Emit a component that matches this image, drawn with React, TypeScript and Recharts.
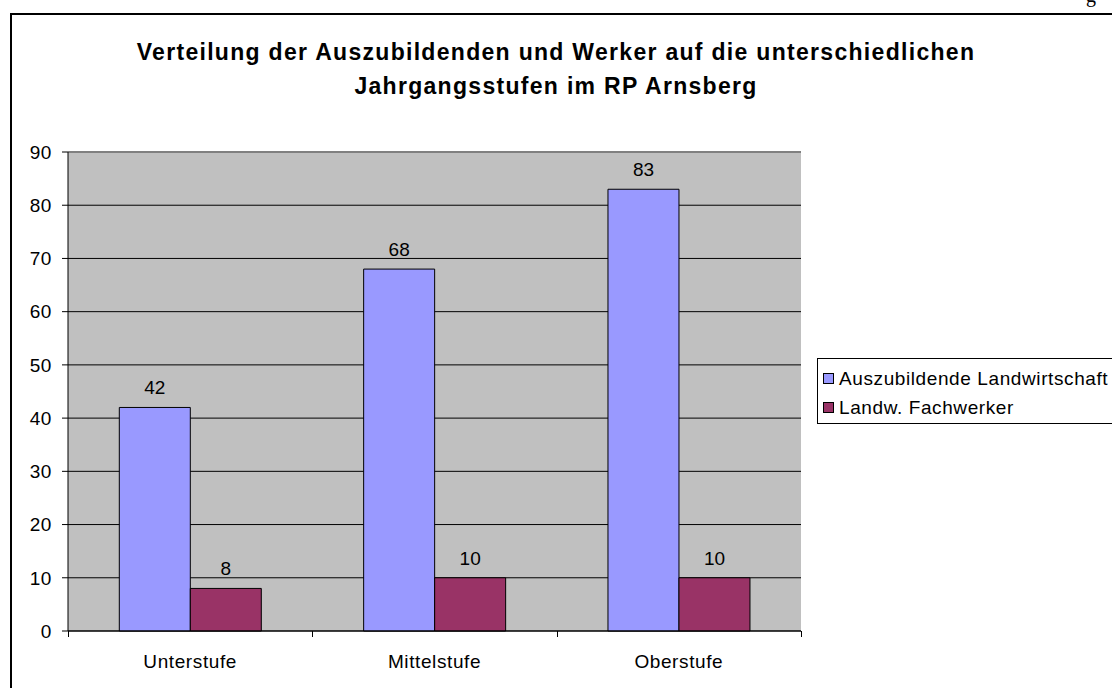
import React from "react";
import {
  BarChart,
  Bar,
  XAxis,
  YAxis,
  CartesianGrid,
  Legend,
  LabelList,
  ReferenceLine,
} from "recharts";

const stufen = ["Unterstufe", "Mittelstufe", "Oberstufe"];
const auszubildende = [42, 68, 83];
const fachwerker = [8, 10, 10];
const yTicks = [0, 10, 20, 30, 40, 50, 60, 70, 80, 90];

const data = stufen.map((stufe, i) => ({
  stufe,
  azubi: auszubildende[i],
  fach: fachwerker[i],
}));

const font = "'Liberation Sans', Arial, sans-serif";
const tickStyle = { fill: "#000", fontSize: 19, fontFamily: font, letterSpacing: 0.6 };

// category label plus tick marks on the category boundaries
function CatTick(props: any) {
  const { x, y, payload, index, visibleTicksCount } = props;
  const half = payload.offset || 0;
  const last = index === visibleTicksCount - 1;
  const lx = Math.round(x - half) + 0.5;
  const rx = Math.round(x + half) + 0.5;
  return (
    <g>
      <line x1={lx} x2={lx} y1={y} y2={y + 6} stroke="#000" />
      {last && <line x1={rx} x2={rx} y1={y} y2={y + 6} stroke="#000" />}
      <text x={x} y={y + 37} textAnchor="middle" {...tickStyle}>
        {payload.value}
      </text>
    </g>
  );
}

function LegendBox(props: any) {
  const items = props.payload || [];
  return (
    <div
      style={{
        border: "1px solid #000",
        background: "#fff",
        width: 320,
        height: 66,
        boxSizing: "border-box",
        padding: "5px 0 0 5px",
        fontFamily: font,
        fontSize: 19,
        letterSpacing: 0.6,
        color: "#000",
      }}
    >
      {items.map((it: any) => (
        <div
          key={it.value}
          style={{ display: "flex", alignItems: "center", height: 29, whiteSpace: "nowrap" }}
        >
          <span
            style={{
              display: "inline-block",
              width: 9,
              height: 9,
              background: it.color,
              border: "1px solid #000",
              marginRight: 5,
            }}
          />
          {it.value}
        </div>
      ))}
    </div>
  );
}

export default function App() {
  return (
    <div
      style={{
        position: "absolute",
        left: 0,
        top: 0,
        width: 1112,
        height: 688,
        overflow: "hidden",
        background: "#fff",
      }}
    >
      <span
        style={{
          position: "absolute",
          left: 1086,
          top: -16,
          fontFamily: "'Liberation Serif', serif",
          fontSize: 20,
        }}
      >
        g
      </span>
      <div
        style={{
          position: "absolute",
          left: 10,
          top: 13,
          width: 1130,
          height: 700,
          border: "2px solid #000",
        }}
      />
      <div
        style={{
          position: "absolute",
          left: 0,
          top: 35,
          width: 1112,
          textAlign: "center",
          fontFamily: font,
          fontWeight: "bold",
          fontSize: 23,
          letterSpacing: 1.3,
          lineHeight: "34px",
        }}
      >
        Verteilung der Auszubildenden und Werker auf die unterschiedlichen
        <br />
        Jahrgangsstufen im RP Arnsberg
      </div>
      <div style={{ position: "absolute", left: 0, top: 0 }}>
        <BarChart
          width={1112}
          height={688}
          data={data}
          margin={{ top: 152, right: 311, bottom: 0, left: 0 }}
          barCategoryGap="21%"
          barGap={0}
        >
          <CartesianGrid vertical={false} stroke="#000" fill="#C0C0C0" fillOpacity={1} />
          <XAxis
            dataKey="stufe"
            height={57}
            axisLine={{ stroke: "#000" }}
            tickLine={false}
            tickSize={0}
            tickMargin={0}
            tick={<CatTick />}
            interval={0}
          />
          <YAxis
            domain={[0, 90]}
            ticks={yTicks}
            width={68}
            tickSize={6}
            tickMargin={10}
            tick={tickStyle}
            axisLine={{ stroke: "#000" }}
            tickLine={{ stroke: "#000" }}
            interval={0}
          />
          <YAxis
            yAxisId="border"
            orientation="right"
            domain={[0, 90]}
            width={0}
            tick={false}
            tickLine={false}
            axisLine={{ stroke: "#808080", strokeWidth: 2 }}
          />
          <ReferenceLine y={90} stroke="#808080" strokeWidth={2} />
          <Legend
            layout="vertical"
            align="center"
            verticalAlign="middle"
            content={LegendBox}
            wrapperStyle={{ left: 817, top: 358, width: 320 }}
          />
          <Bar
            dataKey="azubi"
            name="Auszubildende Landwirtschaft"
            fill="#9999FF"
            stroke="#000"
            strokeWidth={1}
            isAnimationActive={false}
          >
            <LabelList dataKey="azubi" position="top" offset={13} fill="#000" fontSize={19} fontFamily={font} />
          </Bar>
          <Bar
            dataKey="fach"
            name="Landw. Fachwerker"
            fill="#993366"
            stroke="#000"
            strokeWidth={1}
            isAnimationActive={false}
          >
            <LabelList dataKey="fach" position="top" offset={13} fill="#000" fontSize={19} fontFamily={font} />
          </Bar>
        </BarChart>
      </div>
    </div>
  );
}
